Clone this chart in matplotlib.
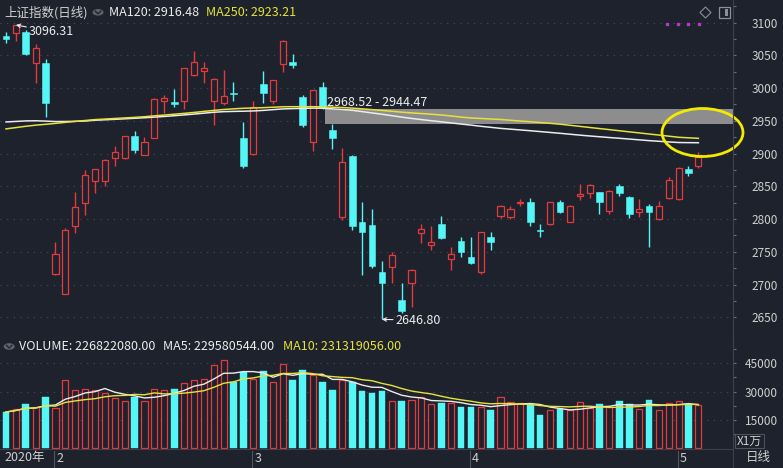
import matplotlib
matplotlib.use('Agg')
import matplotlib.pyplot as plt
from matplotlib.patches import Ellipse, Circle, Rectangle, Polygon
from matplotlib.lines import Line2D
import matplotlib.transforms as mtransforms
import numpy as np
import pandas as pd

plt.rcParams['font.family'] = ['Noto Sans CJK SC', 'DejaVu Sans']

# ---------------- data ----------------
dates = [
    '2020-01-17', '2020-01-20', '2020-01-21', '2020-01-22', '2020-01-23',
    '2020-02-03', '2020-02-04', '2020-02-05', '2020-02-06', '2020-02-07',
    '2020-02-10', '2020-02-11', '2020-02-12', '2020-02-13', '2020-02-14',
    '2020-02-17', '2020-02-18', '2020-02-19', '2020-02-20', '2020-02-21',
    '2020-02-24', '2020-02-25', '2020-02-26', '2020-02-27', '2020-02-28',
    '2020-03-02', '2020-03-03', '2020-03-04', '2020-03-05', '2020-03-06',
    '2020-03-09', '2020-03-10', '2020-03-11', '2020-03-12', '2020-03-13',
    '2020-03-16', '2020-03-17', '2020-03-18', '2020-03-19', '2020-03-20',
    '2020-03-23', '2020-03-24', '2020-03-25', '2020-03-26', '2020-03-27',
    '2020-03-30', '2020-03-31', '2020-04-01', '2020-04-02', '2020-04-03',
    '2020-04-07', '2020-04-08', '2020-04-09', '2020-04-10', '2020-04-13',
    '2020-04-14', '2020-04-15', '2020-04-16', '2020-04-17', '2020-04-20',
    '2020-04-21', '2020-04-22', '2020-04-23', '2020-04-24', '2020-04-27',
    '2020-04-28', '2020-04-29', '2020-04-30', '2020-05-06', '2020-05-07',
    '2020-05-08']

opens = [3080.0, 3083.5, 3086.0, 3037.7, 3038.6,
         2716.0, 2685.3, 2790.0, 2825.0, 2858.0,
         2858.5, 2893.6, 2893.6, 2926.7, 2898.2,
         2924.1, 2980.6, 2978.6, 2980.6, 3020.3,
         3026.4, 2980.6, 2977.6, 2992.9, 2923.2,
         2898.8, 3006.0, 2980.0, 3036.6, 3039.7,
         2985.8, 2918.0, 3001.0, 2936.0, 2802.6,
         2896.2, 2795.0, 2790.9, 2719.6, 2726.3,
         2676.5, 2702.0, 2778.0, 2760.4, 2792.4,
         2738.6, 2766.4, 2742.5, 2718.5, 2773.0,
         2805.0, 2803.6, 2824.0, 2825.5, 2783.3,
         2792.0, 2826.5, 2796.0, 2835.2, 2839.3,
         2840.8, 2812.7, 2850.4, 2834.0, 2811.2,
         2820.0, 2799.6, 2831.6, 2830.1, 2876.0,
         2881.0]
highs = [3086.0, 3096.31, 3088.0, 3067.0, 3044.0,
         2765.0, 2786.0, 2840.8, 2875.0, 2877.0,
         2891.0, 2911.5, 2927.5, 2934.8, 2924.7,
         2984.0, 2989.3, 2998.5, 3030.5, 3056.5,
         3039.7, 3015.7, 3027.5, 3009.6, 2948.6,
         2980.0, 3026.0, 3012.0, 3074.0, 3051.4,
         2989.0, 2997.5, 3009.0, 2944.47, 2908.9,
         2897.0, 2825.5, 2814.8, 2736.0, 2750.0,
         2702.8, 2723.0, 2791.8, 2790.0, 2805.0,
         2757.8, 2772.0, 2773.0, 2780.6, 2780.7,
         2822.0, 2820.0, 2830.6, 2831.6, 2792.0,
         2826.5, 2829.0, 2821.0, 2853.0, 2853.0,
         2842.0, 2844.0, 2853.5, 2835.0, 2830.6,
         2822.5, 2828.0, 2863.6, 2879.0, 2881.0,
         2902.0]
lows = [3068.0, 3072.0, 3050.0, 3007.0, 2955.3,
        2715.0, 2685.3, 2779.0, 2806.0, 2839.3,
        2851.0, 2881.4, 2892.0, 2901.3, 2897.0,
        2923.0, 2961.4, 2971.5, 2968.0, 3018.0,
        3008.0, 2943.5, 2974.0, 2980.0, 2878.0,
        2897.0, 2976.7, 2975.0, 3024.0, 3030.0,
        2941.0, 2904.4, 2968.52, 2906.4, 2798.5,
        2783.0, 2714.6, 2726.0, 2646.8, 2702.0,
        2656.0, 2666.0, 2763.8, 2752.7, 2770.0,
        2722.2, 2742.5, 2731.0, 2716.0, 2752.7,
        2802.0, 2799.6, 2820.0, 2789.8, 2773.0,
        2791.0, 2808.8, 2795.0, 2829.0, 2832.6,
        2807.7, 2807.7, 2835.6, 2802.0, 2803.6,
        2757.8, 2798.0, 2830.0, 2829.0, 2865.7,
        2878.0]
closes = [3075.5, 3095.8, 3052.1, 3060.7, 2976.5,
          2746.6, 2783.3, 2818.1, 2866.5, 2876.0,
          2890.5, 2901.7, 2926.9, 2906.1, 2917.0,
          2983.6, 2985.0, 2975.4, 3030.2, 3039.7,
          3031.2, 3013.1, 2987.9, 2991.3, 2880.3,
          2970.9, 2992.9, 3011.7, 3071.7, 3034.5,
          2943.3, 2996.8, 2968.9, 2923.5, 2887.4,
          2789.3, 2779.6, 2728.8, 2702.1, 2745.6,
          2660.2, 2722.4, 2785.0, 2764.3, 2771.5,
          2746.2, 2750.0, 2733.3, 2779.6, 2764.4,
          2820.0, 2814.8, 2826.5, 2796.0, 2781.7,
          2825.5, 2811.2, 2819.9, 2838.2, 2851.9,
          2826.5, 2842.8, 2839.3, 2807.7, 2815.3,
          2810.0, 2820.0, 2859.6, 2877.6, 2870.8,
          2895.3]

# volume in units of 1e4 (万)
volumes = [19220, 20810, 23460, 22030, 27160,
           21180, 36160, 30710, 31240, 30710,
           29440, 26480, 25050, 27320, 25050,
           31240, 30710, 31400, 34740, 36160,
           36690, 44270, 46600, 35260, 40240,
           36690, 40930, 34950, 44480, 36160,
           41300, 38970, 35100, 30870, 36160,
           34950, 30340, 29440, 30340, 25220,
           25220, 25570, 27000, 23460, 24150,
           24150, 22030, 22030, 21700, 20280,
           27000, 24520, 23990, 22770, 17630,
           20280, 20650, 20280, 24520, 21180,
           23460, 21700, 25050, 23460, 20810,
           25570, 20280, 23990, 25050, 23460,
           22682.208]

ma120 = [2948.2, 2949.0, 2949.8, 2950.0, 2949.5, 2948.8, 2948.9, 2949.2, 2949.6, 2950.8,
         2951.5, 2952.2, 2953.0, 2953.8, 2954.6, 2955.6, 2956.6, 2957.7, 2958.9, 2960.2,
         2961.6, 2963.0, 2963.9, 2964.3, 2964.6, 2965.0, 2965.8, 2967.0, 2968.1, 2968.6,
         2968.9, 2969.3, 2969.2, 2968.2, 2967.2, 2966.0, 2964.0, 2962.0, 2960.0, 2957.8,
         2955.6, 2953.6, 2951.8, 2950.1, 2948.4, 2946.7, 2945.0, 2943.4, 2941.6, 2940.0,
         2938.4, 2937.2, 2936.0, 2934.8, 2933.5, 2932.2, 2930.9, 2929.5, 2928.1, 2926.8,
         2925.6, 2924.4, 2923.3, 2922.1, 2920.9, 2919.7, 2918.7, 2917.7, 2916.8, 2916.6,
         2916.48]
ma250 = [2937.6, 2939.6, 2941.6, 2943.3, 2944.6, 2946.0, 2947.6, 2949.0, 2950.4, 2951.8,
         2952.6, 2953.5, 2954.3, 2955.2, 2956.2, 2957.5, 2958.7, 2960.0, 2961.3, 2962.7,
         2964.3, 2965.8, 2967.2, 2968.2, 2969.1, 2969.5, 2970.0, 2970.7, 2971.4, 2971.5,
         2971.5, 2971.5, 2971.2, 2970.7, 2970.2, 2969.3, 2968.2, 2967.0, 2965.8, 2964.5,
         2963.1, 2962.0, 2961.0, 2960.0, 2958.8, 2957.3, 2955.6, 2954.3, 2953.5, 2952.7,
         2952.0, 2950.8, 2949.6, 2948.5, 2947.3, 2946.1, 2944.8, 2943.2, 2941.5, 2939.8,
         2938.1, 2936.5, 2934.8, 2933.1, 2931.5, 2929.8, 2928.2, 2926.5, 2924.8, 2924.0,
         2923.21]

price_ticks = [2650, 2700, 2750, 2800, 2850, 2900, 2950, 3000, 3050, 3100]
vol_ticks = [15000, 30000, 45000]
gap_low, gap_high = 2944.47, 2968.52
vol_last, vol_ma5_last, vol_ma10_last = 226822080.00, 229580544.00, 231319056.00
title_name = '上证指数(日线)'

# ---------------- style ----------------
BG = '#1e222c'
GRID = '#474d5a'
SPINE = '#3c414d'
RED = '#e43a3e'
CYAN = '#54f6f6'
WHITE = '#ececec'
YELLOW = '#e6e23c'
TXT = '#cfcfcf'

W, H = 783, 468
def fx(px):
    return px / W
def fy(py):
    return 1 - py / H

fig = plt.figure(figsize=(W / 100, H / 100), dpi=100, facecolor=BG)

XL = (-0.607, 73.5)
ax = fig.add_axes([0, fy(338), 733 / W, (338 - 2) / H], facecolor=BG)
ax2 = fig.add_axes([0, fy(449), 733 / W, (449 - 338) / H], facecolor=BG)

x = np.arange(len(dates))
o = np.array(opens); h = np.array(highs); l = np.array(lows); c = np.array(closes)
up = c >= o
col = np.where(up, RED, CYAN)

# --- main panel ---
ax.set_xlim(*XL)
ax.set_ylim(2618.4, 3131.3)
for t in price_ticks:
    ax.axhline(t, color=GRID, lw=0.8, ls=(0, (1, 5)), zorder=0)

# gap band
ax.fill_between([32.3, XL[1]], gap_low, gap_high, color='#8d8d8d', lw=0, zorder=1)
ax.text(32.45, 2972.5, f'{gap_high:.2f} - {gap_low:.2f}', color='#ececec',
        fontsize=9, ha='left', va='baseline', zorder=6)

ax.vlines(x, l, h, colors=col, lw=1.0, zorder=2)
body_lo = np.minimum(o, c)
body_h = np.maximum(np.abs(c - o), 0.9)
ax.bar(x[up], body_h[up], bottom=body_lo[up], width=0.62, facecolor=BG,
       edgecolor=RED, lw=0.9, zorder=3)
ax.bar(x[~up], body_h[~up], bottom=body_lo[~up], width=0.68, facecolor=CYAN,
       edgecolor=CYAN, lw=0.4, zorder=3)

ax.plot(x, ma120, color=WHITE, lw=1.1, zorder=4)
ax.plot(x, ma250, color=YELLOW, lw=1.1, zorder=4)

# extremes
imax = int(np.argmax(h)); imin = int(np.argmin(l))
ax.annotate(f'{h[imax]:.2f}', xy=(imax, h[imax]), xytext=(9.5, -5),
            textcoords='offset points', color='#ececec', fontsize=9,
            ha='left', va='center',
            arrowprops=dict(arrowstyle='->', color='#ececec', lw=0.8,
                            shrinkA=0, shrinkB=0, mutation_scale=6), zorder=6)
ax.annotate(f'{l[imin]:.2f}', xy=(imin, l[imin]), xytext=(10, -0.5),
            textcoords='offset points', color='#ececec', fontsize=9,
            ha='left', va='center',
            arrowprops=dict(arrowstyle='->', color='#ececec', lw=0.8,
                            shrinkA=0, shrinkB=0, mutation_scale=6), zorder=6)

ax.yaxis.tick_right()
ax.set_yticks(price_ticks)
ax.set_yticklabels([str(t) for t in price_ticks], ha='right')
ax.set_yticks([t + 25 for t in price_ticks], minor=True)
ax.tick_params(axis='y', which='major', length=2.5, width=0.8, color='#6a6f7a',
               labelcolor=TXT, labelsize=8.5, pad=30.0)
ax.tick_params(axis='y', which='minor', length=1.8, width=0.8, color='#6a6f7a')
ax.tick_params(axis='x', bottom=False, labelbottom=False)
for s in ['left', 'top']:
    ax.spines[s].set_visible(False)
ax.spines['right'].set_color(SPINE)
ax.spines['bottom'].set_color(SPINE)

# --- volume panel ---
vol = np.array(volumes)
ax2.set_xlim(*XL)
ax2.set_ylim(-371, 58400)
for t in vol_ticks:
    ax2.axhline(t, color=GRID, lw=0.8, ls=(0, (1, 5)), zorder=0)
ax2.bar(x[up], vol[up], width=0.62, facecolor=BG, edgecolor=RED, lw=0.9, zorder=2)
ax2.bar(x[~up], vol[~up], width=0.68, facecolor=CYAN, edgecolor=CYAN, lw=0.3, zorder=2)
vs = pd.Series(vol)
ax2.plot(x, vs.rolling(5, min_periods=1).mean(), color=WHITE, lw=1.0, zorder=3)
ax2.plot(x, vs.rolling(10, min_periods=1).mean(), color=YELLOW, lw=1.0, zorder=3)
ax2.yaxis.tick_right()
ax2.set_yticks(vol_ticks)
ax2.set_yticklabels([str(t) for t in vol_ticks], ha='right')
ax2.set_yticks([7500, 22500, 37500, 52500], minor=True)
ax2.tick_params(axis='y', which='major', length=2.5, width=0.8, color='#6a6f7a',
                labelcolor=TXT, labelsize=8.5, pad=30.0)
ax2.tick_params(axis='y', which='minor', length=1.8, width=0.8, color='#6a6f7a')
ax2.tick_params(axis='x', bottom=False, labelbottom=False)
for s in ['left', 'top']:
    ax2.spines[s].set_visible(False)
ax2.spines['right'].set_color(SPINE)
ax2.spines['bottom'].set_color(SPINE)

# --- date row ---
tr = mtransforms.blended_transform_factory(ax2.transData, fig.transFigure)
months = [d[5:7] for d in dates]
fig.text(fx(4), fy(458), dates[0][:4] + '年', color=TXT, fontsize=9, va='center', ha='left')
for i in range(1, len(dates)):
    if months[i] != months[i - 1]:
        fig.add_artist(Line2D([i - 0.1, i - 0.1], [fy(451), fy(468)], transform=tr,
                              color='#50555f', lw=0.8))
        fig.text(i + 0.1, fy(458), str(int(months[i])), transform=tr, color=TXT,
                 fontsize=9, va='center', ha='left')
fig.text(fx(758), fy(458), '日线', color=TXT, fontsize=9, va='center', ha='center')
fig.add_artist(Line2D([fx(733), fx(733)], [0, 1], color=SPINE, lw=0.8))

# X1万 box
fig.add_artist(Rectangle((fx(735), fy(448)), 29 / W, 14 / H, transform=fig.transFigure,
                         fill=False, edgecolor='#4c515c', lw=0.8))
fig.text(fx(749.5), fy(441), 'X1万', color=TXT, fontsize=8.5, va='center', ha='center')

# --- header texts ---
def chevron_icon(cx, cy, r=5.5):
    fig.add_artist(Circle((fx(cx), fy(cy)), r / W, transform=fig.transFigure,
                          facecolor='#60646d', edgecolor='none'))
    fig.add_artist(Line2D([fx(cx - 2.8), fx(cx), fx(cx + 2.8)],
                          [fy(cy - 1.2), fy(cy + 1.6), fy(cy - 1.2)],
                          color='#23262e', lw=1.0))

fig.text(fx(4), fy(12.5), title_name, color=TXT, fontsize=9, va='center', ha='left')
chevron_icon(98, 12.3)
fig.text(fx(109.5), fy(12.5), f'MA120: {ma120[-1]:.2f}', color=WHITE, fontsize=9,
         va='center', ha='left')
fig.text(fx(206.5), fy(12.5), f'MA250: {ma250[-1]:.2f}', color=YELLOW, fontsize=9,
         va='center', ha='left')

chevron_icon(9.2, 346.5)
fig.text(fx(19), fy(346.5), f'VOLUME: {vol_last:.2f}', color=WHITE, fontsize=9,
         va='center', ha='left')
fig.text(fx(163.3), fy(346.5), f'MA5: {vol_ma5_last:.2f}', color=WHITE, fontsize=9,
         va='center', ha='left')
fig.text(fx(282.7), fy(346.5), f'MA10: {vol_ma10_last:.2f}', color=YELLOW, fontsize=9,
         va='center', ha='left')

# top-right icons
fig.add_artist(Polygon([(fx(705.5), fy(7)), (fx(711), fy(12.5)), (fx(705.5), fy(18)),
                        (fx(700), fy(12.5))], closed=True, fill=False,
                       edgecolor='#8a8e96', lw=0.8, transform=fig.transFigure))
fig.add_artist(Rectangle((fx(718.5), fy(18)), 11.5 / W, 11 / H, transform=fig.transFigure,
                         fill=False, edgecolor='#8a8e96', lw=0.9))
fig.add_artist(Rectangle((fx(724.5), fy(16)), 3.5 / W, 7 / H, transform=fig.transFigure,
                         facecolor='#8a8e96', edgecolor='none'))
fig.add_artist(Line2D([fx(667), fx(677.5), fx(688), fx(698.5)], [fy(23.7)] * 4,
                      ls='none', marker='s', markersize=1.8, color='#b23cc4'))

# highlight ellipse
fig.add_artist(Ellipse((fx(702.5), fy(132.5)), 81 / W, 48 / H, transform=fig.transFigure,
                       fill=False, edgecolor='#f2ea00', lw=2.0))

fig.savefig('out.png', dpi=100, facecolor=BG)
